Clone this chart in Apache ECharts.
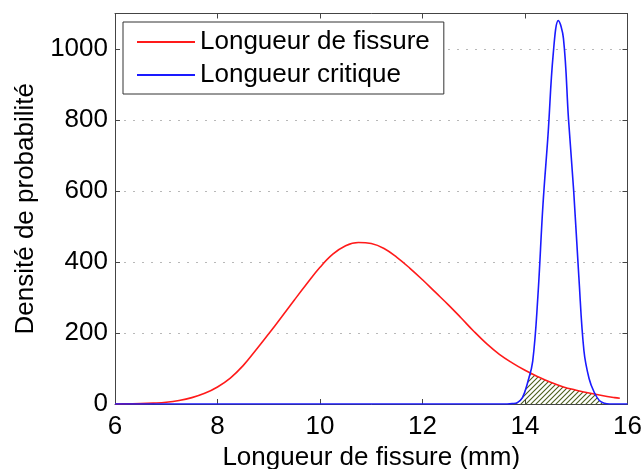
<!DOCTYPE html>
<html>
<head>
<meta charset="utf-8">
<script src="https://cdn.jsdelivr.net/npm/echarts@6/dist/echarts.min.js"></script>
<style>
html,body{margin:0;padding:0;background:#fff;}
#chart{width:642px;height:469px;}
</style>
</head>
<body>
<div id="chart"></div>
<script>
// ---- data ----
var redX = [6.0, 6.25, 6.5, 6.75, 7.0, 7.25, 7.5, 7.75, 8.0, 8.25, 8.5, 8.75, 9.0, 9.25, 9.5, 9.75, 10.0, 10.25, 10.5, 10.75, 11.0, 11.25, 11.5, 11.75, 12.0, 12.25, 12.5, 12.75, 13.0, 13.25, 13.5, 13.75, 14.0, 14.25, 14.5, 14.75, 15.0, 15.25, 15.5, 15.75, 15.85];
var redY = [0, 0.5, 1, 2.5, 5, 10, 18, 30, 48, 73, 108, 152, 198, 245, 293, 340, 385, 422, 446, 455, 452, 438, 413, 383, 350, 315, 280, 243, 205, 170, 140, 116, 95, 77, 61, 48, 39, 31, 24, 18, 16];

var blueX = [6.0, 13.45, 13.55, 13.65, 13.75, 13.85, 13.95, 14.05, 14.15, 14.25, 14.35, 14.45, 14.55, 14.65, 14.75, 14.85, 14.95, 15.05, 15.15, 15.25, 15.35, 15.45, 15.55, 15.65, 15.75, 16.0];
var blueY = [0, 0, 0, 0, 1, 4, 18, 60, 120, 300, 560, 760, 985, 1080, 1030, 800, 600, 360, 150, 72, 33, 10, 2, 0, 0, 0];

var hatchX = [13.8, 13.85, 13.95, 14.05, 14.09, 14.2, 14.3, 14.4, 14.5, 14.6, 14.7, 14.8, 14.9, 15.0, 15.1, 15.2, 15.3, 15.37, 15.45, 15.55, 15.62];
var hatchY = [0, 4, 18, 60, 87, 80, 73, 67, 61, 56, 51, 46, 42, 39, 35, 32, 29, 27, 10, 2, 0];

var xTicks = [6, 8, 10, 12, 14, 16];
var yTicks = [0, 200, 400, 600, 800, 1000];

var seriesNames = ['Longueur de fissure', 'Longueur critique'];
var xTitle = 'Longueur de fissure (mm)';
var yTitle = 'Densité de probabilité';

function pairs(xs, ys){ return xs.map(function(x,i){ return [x, ys[i]]; }); }

// hatch pattern
var pc = document.createElement('canvas');
pc.width = 5; pc.height = 5;
var g = pc.getContext('2d');
g.strokeStyle = '#4a5e1c';
g.lineWidth = 1.1;
g.beginPath();
g.moveTo(-1, 6); g.lineTo(6, -1);
g.moveTo(-1, 1); g.lineTo(1, -1);
g.moveTo(4, 6); g.lineTo(6, 4);
g.stroke();

var FONT = 'Liberation Sans, Arial, Helvetica, sans-serif';
var axisCol = '#444';

var chart = echarts.init(document.getElementById('chart'), null, {renderer: 'canvas'});
var xBase = {
  type: 'value', min: xTicks[0], max: xTicks[xTicks.length-1], interval: 2,
  axisLine: {show: true, onZero: false, lineStyle: {color: axisCol, width: 1}},
  axisTick: {show: true, inside: true, length: 5, lineStyle: {color: axisCol}},
  splitLine: {show: false}
};
var yBase = {
  type: 'value', min: yTicks[0], max: 1100, interval: 200,
  axisLine: {show: true, onZero: false, lineStyle: {color: axisCol, width: 1}},
  axisTick: {show: true, inside: true, length: 5, lineStyle: {color: axisCol}}
};
chart.setOption({
  animation: false,
  backgroundColor: '#fff',
  grid: {left: 115, right: 14.5, top: 13.5, bottom: 65, containLabel: false, outerBoundsMode: 'none'},
  legend: {
    data: seriesNames,
    orient: 'vertical',
    left: 123, top: 22,
    padding: [7, 14, 6, 14],
    itemGap: 7,
    itemWidth: 58, itemHeight: 2,
    icon: 'rect',
    backgroundColor: '#fff',
    borderColor: '#333', borderWidth: 1,
    textStyle: {fontFamily: FONT, fontSize: 26, color: '#000'}
  },
  xAxis: [
    Object.assign({}, xBase, {
      position: 'bottom',
      name: xTitle, nameLocation: 'middle', nameGap: 38,
      nameTextStyle: {fontFamily: FONT, fontSize: 26, color: '#000'},
      axisLabel: {fontFamily: FONT, fontSize: 26, color: '#000', margin: 10,
        formatter: function(v){ return String(v); }}
    }),
    Object.assign({}, xBase, {position: 'top', axisLabel: {show: false}})
  ],
  yAxis: [
    Object.assign({}, yBase, {
      position: 'left',
      name: yTitle, nameLocation: 'middle', nameGap: 72,
      nameTextStyle: {fontFamily: FONT, fontSize: 26, color: '#000'},
      axisLabel: {fontFamily: FONT, fontSize: 26, color: '#000', margin: 7, showMaxLabel: false,
        formatter: function(v){ return String(v); }},
      splitLine: {show: true, lineStyle: {color: '#b8b8b8', type: [2, 7], width: 1}}
    }),
    Object.assign({}, yBase, {position: 'right', axisLabel: {show: false}, splitLine: {show: false}})
  ],
  series: [
    {
      name: 'hatch', type: 'line', data: pairs(hatchX, hatchY),
      smooth: false, symbol: 'none', silent: true,
      lineStyle: {width: 0, opacity: 0},
      areaStyle: {color: {image: pc, repeat: 'repeat'}, opacity: 1},
      z: 1
    },
    {
      name: seriesNames[0], type: 'line', data: pairs(redX, redY),
      smooth: 0.4, symbol: 'none',
      lineStyle: {color: '#ff1a1a', width: 1.6},
      itemStyle: {color: '#ff1a1a'},
      z: 3
    },
    {
      name: seriesNames[1], type: 'line', data: pairs(blueX, blueY),
      smooth: 0.4, symbol: 'none',
      lineStyle: {color: '#1a1aff', width: 1.6},
      itemStyle: {color: '#1a1aff'},
      z: 4
    }
  ]
});
</script>
</body>
</html>
